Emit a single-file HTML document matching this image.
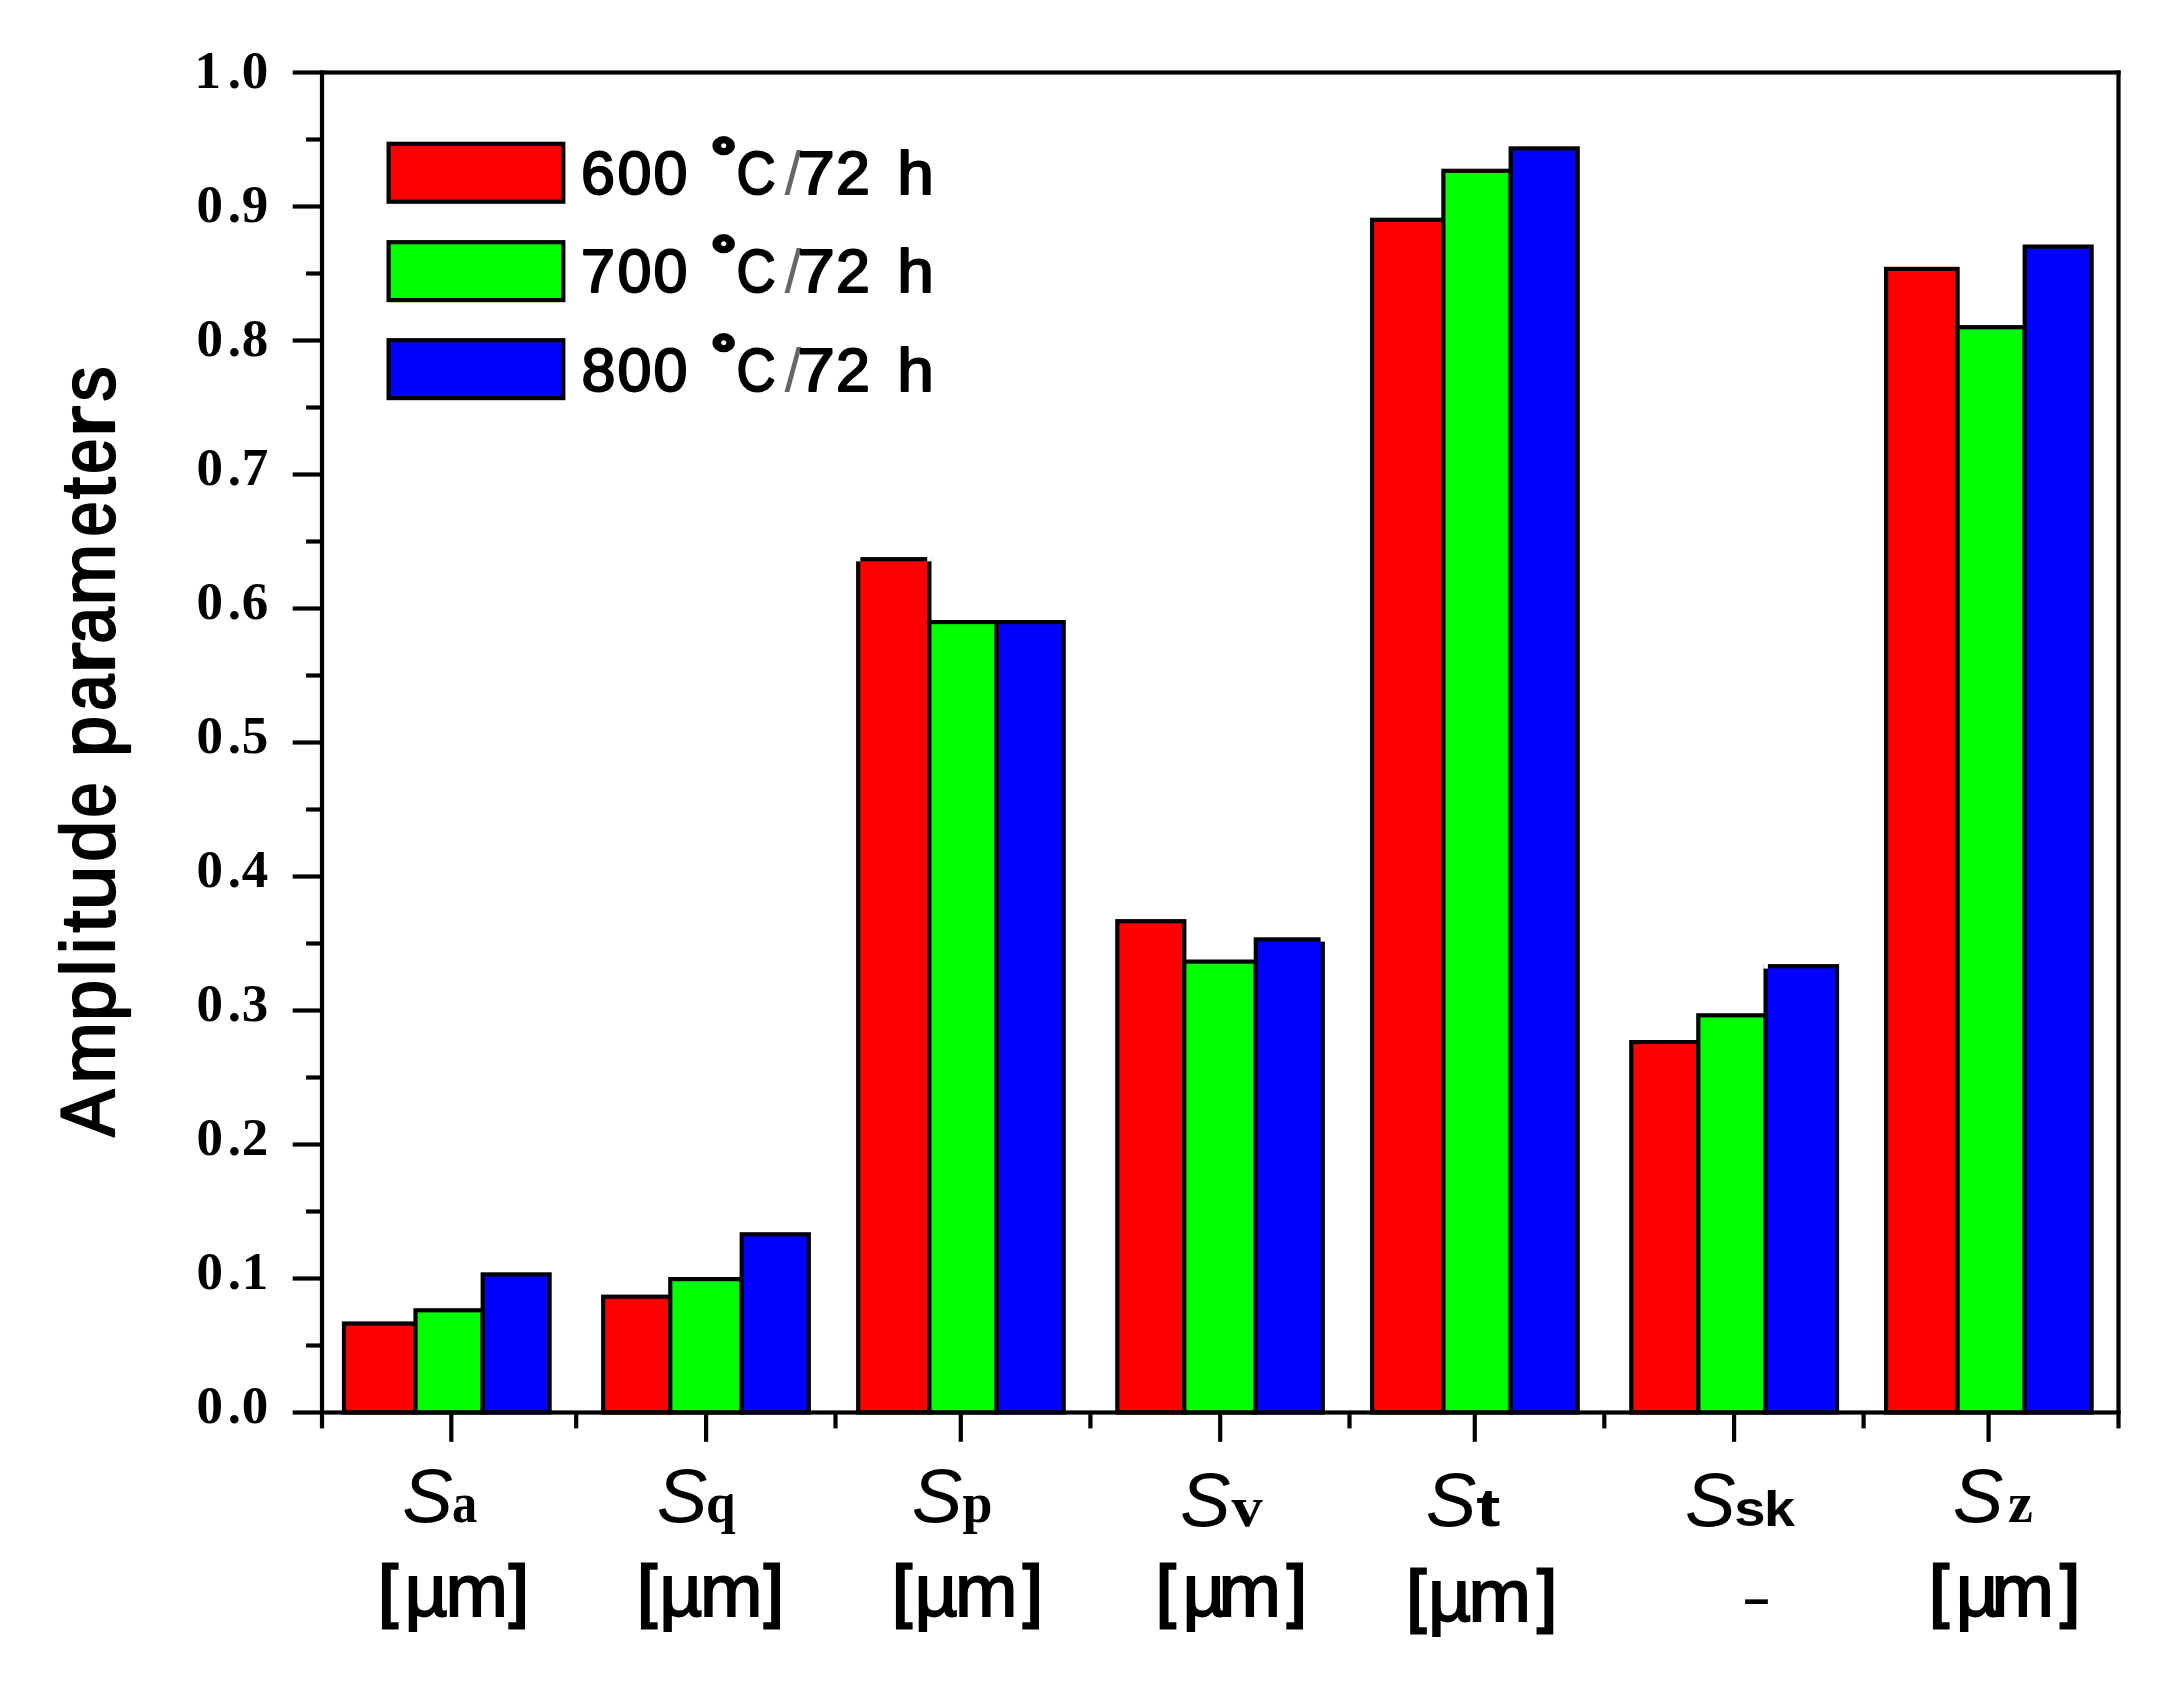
<!DOCTYPE html>
<html lang="en"><head><meta charset="utf-8"><title>Amplitude parameters</title>
<style>html,body{margin:0;padding:0;background:#fff}body{width:2164px;height:1684px;overflow:hidden}svg{display:block}.sans{font-family:"Liberation Sans",Arial,Helvetica,sans-serif}.serif{font-family:"Liberation Serif","Times New Roman",serif;font-weight:bold}</style></head><body>
<svg width="2164" height="1684" viewBox="0 0 2164 1684">
<rect width="2164" height="1684" fill="#fff"/>
<g stroke="#000" stroke-width="4.2" stroke-linejoin="miter">
<rect x="344.0" y="1323.5" width="71.5" height="89.0" fill="#ff0000"/>
<rect x="415.5" y="1310.3" width="67.2" height="102.2" fill="#00ff00"/>
<rect x="482.7" y="1274.4" width="66.9" height="138.1" fill="#0000ff"/>
<rect x="603.2" y="1296.7" width="67.1" height="115.8" fill="#ff0000"/>
<rect x="670.3" y="1279.1" width="71.4" height="133.4" fill="#00ff00"/>
<rect x="741.7" y="1234.3" width="67.1" height="178.2" fill="#0000ff"/>
<rect x="858.2" y="559.2" width="71.2" height="853.3" fill="#ff0000"/>
<rect x="929.4" y="622.1" width="67.3" height="790.4" fill="#00ff00"/>
<rect x="996.7" y="622.1" width="67.0" height="790.4" fill="#0000ff"/>
<rect x="1117.3" y="921.2" width="67.0" height="491.3" fill="#ff0000"/>
<rect x="1184.3" y="961.6" width="71.5" height="450.9" fill="#00ff00"/>
<rect x="1255.8" y="939.4" width="67.0" height="473.1" fill="#0000ff"/>
<rect x="1372.1" y="219.8" width="71.3" height="1192.7" fill="#ff0000"/>
<rect x="1443.4" y="170.8" width="67.3" height="1241.7" fill="#00ff00"/>
<rect x="1510.7" y="148.4" width="67.0" height="1264.1" fill="#0000ff"/>
<rect x="1631.3" y="1042.1" width="67.0" height="370.4" fill="#ff0000"/>
<rect x="1698.3" y="1015.3" width="67.3" height="397.2" fill="#00ff00"/>
<rect x="1765.6" y="966.2" width="71.4" height="446.3" fill="#0000ff"/>
<rect x="1886.1" y="268.9" width="71.5" height="1143.6" fill="#ff0000"/>
<rect x="1957.6" y="327.2" width="67.1" height="1085.3" fill="#00ff00"/>
<rect x="2024.7" y="246.6" width="66.9" height="1165.9" fill="#0000ff"/>
</g>
<g fill="#000">
<rect x="292.7" y="70.4" width="1827.9" height="4.2"/>
<rect x="292.7" y="1410.4" width="1827.9" height="4.2"/>
<rect x="319.9" y="70.4" width="4.2" height="1358.0"/>
<rect x="2116.4" y="70.4" width="4.2" height="1358.0"/>
<rect x="292.7" y="1276.4" width="28" height="4.2"/>
<rect x="292.7" y="1142.4" width="28" height="4.2"/>
<rect x="292.7" y="1008.4" width="28" height="4.2"/>
<rect x="292.7" y="874.4" width="28" height="4.2"/>
<rect x="292.7" y="740.4" width="28" height="4.2"/>
<rect x="292.7" y="606.4" width="28" height="4.2"/>
<rect x="292.7" y="472.4" width="28" height="4.2"/>
<rect x="292.7" y="338.4" width="28" height="4.2"/>
<rect x="292.7" y="204.4" width="28" height="4.2"/>
<rect x="306.1" y="1343.4" width="15" height="4.2"/>
<rect x="306.1" y="1209.4" width="15" height="4.2"/>
<rect x="306.1" y="1075.4" width="15" height="4.2"/>
<rect x="306.1" y="941.4" width="15" height="4.2"/>
<rect x="306.1" y="807.4" width="15" height="4.2"/>
<rect x="306.1" y="673.4" width="15" height="4.2"/>
<rect x="306.1" y="539.4" width="15" height="4.2"/>
<rect x="306.1" y="405.4" width="15" height="4.2"/>
<rect x="306.1" y="271.4" width="15" height="4.2"/>
<rect x="306.1" y="137.4" width="15" height="4.2"/>
<rect x="449.2" y="1412.5" width="4.2" height="29.3"/>
<rect x="574.1" y="1412.5" width="4.2" height="15.9"/>
<rect x="704.0" y="1412.5" width="4.2" height="29.3"/>
<rect x="833.4" y="1412.5" width="4.2" height="15.9"/>
<rect x="958.7" y="1412.5" width="4.2" height="29.3"/>
<rect x="1088.3" y="1412.5" width="4.2" height="15.9"/>
<rect x="1218.1" y="1412.5" width="4.2" height="29.3"/>
<rect x="1347.4" y="1412.5" width="4.2" height="15.9"/>
<rect x="1472.7" y="1412.5" width="4.2" height="29.3"/>
<rect x="1602.2" y="1412.5" width="4.2" height="15.9"/>
<rect x="1732.0" y="1412.5" width="4.2" height="29.3"/>
<rect x="1861.5" y="1412.5" width="4.2" height="15.9"/>
<rect x="1986.5" y="1412.5" width="4.2" height="29.3"/>
</g>
<g stroke="#000" stroke-width="4.2">
<rect x="388.6" y="143.8" width="174.7" height="57.9" fill="#ff0000"/>
<rect x="388.6" y="242.2" width="174.7" height="57.9" fill="#00ff00"/>
<rect x="388.6" y="340.2" width="174.7" height="57.9" fill="#0000ff"/>
</g>
<g fill="#fff">
<rect x="855.8" y="556.8" width="4.6" height="4.6"/>
<rect x="927.2" y="556.8" width="4.6" height="4.6"/>
<rect x="1320.6" y="937.0" width="4.6" height="4.6"/>
<rect x="1763.3" y="964.0" width="4.6" height="4.6"/>
</g>
<g class="serif" font-size="53">
<text x="196.5 227.7 241.7" y="1423.4">0.0</text>
<text x="196.5 227.7 241.7" y="1289.4">0.1</text>
<text x="196.5 227.7 241.7" y="1155.4">0.2</text>
<text x="196.5 227.7 241.7" y="1021.4">0.3</text>
<text x="196.5 227.7 241.7" y="887.4">0.4</text>
<text x="196.5 227.7 241.7" y="753.4">0.5</text>
<text x="196.5 227.7 241.7" y="619.4">0.6</text>
<text x="196.5 227.7 241.7" y="485.4">0.7</text>
<text x="196.5 227.7 241.7" y="355.5">0.8</text>
<text x="196.5 227.7 241.7" y="221.5">0.9</text>
<text x="194.5 227.7 241.7" y="87.5">1.0</text>
</g>
<g class="sans" font-size="61" stroke="#000" stroke-width="2" stroke-linejoin="round">
<text y="193.6"><tspan x="580.9 617.6 653.6">600 </tspan><tspan x="711.6" dy="-19" font-size="51" stroke-width="4.5" textLength="24.4" lengthAdjust="spacingAndGlyphs">°</tspan><tspan x="736.6" dy="19" textLength="39.2" lengthAdjust="spacingAndGlyphs">C</tspan><tspan x="784.5" stroke="none" fill="#666">/</tspan><tspan x="797.6" textLength="37.3" lengthAdjust="spacingAndGlyphs">7</tspan><tspan x="836">2 </tspan><tspan x="897.2" textLength="36.6" lengthAdjust="spacingAndGlyphs">h</tspan></text>
<text y="292.0"><tspan x="580.9 617.6 653.6">700 </tspan><tspan x="711.6" dy="-19" font-size="51" stroke-width="4.5" textLength="24.4" lengthAdjust="spacingAndGlyphs">°</tspan><tspan x="736.6" dy="19" textLength="39.2" lengthAdjust="spacingAndGlyphs">C</tspan><tspan x="784.5" stroke="none" fill="#666">/</tspan><tspan x="797.6" textLength="37.3" lengthAdjust="spacingAndGlyphs">7</tspan><tspan x="836">2 </tspan><tspan x="897.2" textLength="36.6" lengthAdjust="spacingAndGlyphs">h</tspan></text>
<text y="390.5"><tspan x="581.4 617.6 653.6">800 </tspan><tspan x="711.6" dy="-19" font-size="51" stroke-width="4.5" textLength="24.4" lengthAdjust="spacingAndGlyphs">°</tspan><tspan x="736.6" dy="19" textLength="39.2" lengthAdjust="spacingAndGlyphs">C</tspan><tspan x="784.5" stroke="none" fill="#666">/</tspan><tspan x="797.6" textLength="37.3" lengthAdjust="spacingAndGlyphs">7</tspan><tspan x="836">2 </tspan><tspan x="897.2" textLength="36.6" lengthAdjust="spacingAndGlyphs">h</tspan></text>
</g>
<text class="sans" font-size="76" stroke="#000" stroke-width="2.2" stroke-linejoin="round" transform="translate(113.6,1138) rotate(-90)" y="0"><tspan x="1.2" textLength="47.1" lengthAdjust="spacingAndGlyphs">A</tspan><tspan x="54.5" textLength="61.4" lengthAdjust="spacingAndGlyphs">m</tspan><tspan x="117.1" textLength="41.0" lengthAdjust="spacingAndGlyphs">p</tspan><tspan x="161.6">l</tspan><tspan x="183.7">i</tspan><tspan x="205.4" textLength="21.8" lengthAdjust="spacingAndGlyphs">t</tspan><tspan x="228.0" textLength="44.4" lengthAdjust="spacingAndGlyphs">u</tspan><tspan x="276.3" textLength="41.0" lengthAdjust="spacingAndGlyphs">d</tspan><tspan x="320.4" textLength="35.1" lengthAdjust="spacingAndGlyphs">e</tspan><tspan> </tspan><tspan x="380.9" textLength="41.0" lengthAdjust="spacingAndGlyphs">p</tspan><tspan x="427.3" textLength="36.3" lengthAdjust="spacingAndGlyphs">a</tspan><tspan x="464.1" textLength="31.6" lengthAdjust="spacingAndGlyphs">r</tspan><tspan x="494.6" textLength="36.3" lengthAdjust="spacingAndGlyphs">a</tspan><tspan x="532.8" textLength="61.4" lengthAdjust="spacingAndGlyphs">m</tspan><tspan x="601.5" textLength="35.1" lengthAdjust="spacingAndGlyphs">e</tspan><tspan x="639.0" textLength="21.8" lengthAdjust="spacingAndGlyphs">t</tspan><tspan x="664.3" textLength="35.1" lengthAdjust="spacingAndGlyphs">e</tspan><tspan x="700.5" textLength="31.6" lengthAdjust="spacingAndGlyphs">r</tspan><tspan x="736.5" textLength="35.0" lengthAdjust="spacingAndGlyphs">s</tspan></text>
<text y="1521.8"><tspan class="sans" font-style="italic" font-size="76" x="402.2">S</tspan><tspan class="serif" font-size="56" x="451.9" textLength="25.2" lengthAdjust="spacingAndGlyphs">a</tspan></text>
<text y="1521.8"><tspan class="sans" font-style="italic" font-size="76" x="656.8">S</tspan><tspan class="serif" font-size="56" x="705.9" textLength="29.6" lengthAdjust="spacingAndGlyphs">q</tspan></text>
<text y="1521.8"><tspan class="sans" font-style="italic" font-size="76" x="911.8">S</tspan><tspan class="serif" font-size="56" x="962.4" textLength="29.9" lengthAdjust="spacingAndGlyphs">p</tspan></text>
<text y="1526.1"><tspan class="sans" font-style="italic" font-size="76" x="1180.1">S</tspan><tspan class="serif" font-size="57" x="1231.4" textLength="31.1" lengthAdjust="spacingAndGlyphs">v</tspan></text>
<text y="1526.1"><tspan class="sans" font-style="italic" font-size="76" x="1425.7">S</tspan><tspan font-family="Liberation Sans,Arial,sans-serif" font-weight="bold" font-size="54" x="1476.3" textLength="24.1" lengthAdjust="spacingAndGlyphs">t</tspan></text>
<text y="1526.1"><tspan class="sans" font-style="italic" font-size="76" x="1684.9">S</tspan><tspan font-family="Liberation Sans,Arial,sans-serif" font-weight="bold" font-size="50" x="1734.2" textLength="31.3" lengthAdjust="spacingAndGlyphs">s</tspan><tspan font-family="Liberation Sans,Arial,sans-serif" font-weight="bold" font-size="50" x="1763.9" textLength="30.9" lengthAdjust="spacingAndGlyphs">k</tspan></text>
<text y="1521.8"><tspan class="sans" font-style="italic" font-size="76" x="1952.8">S</tspan><tspan class="serif" font-size="56" x="2008">z</tspan></text>
<g class="sans" font-size="75" stroke="#000" stroke-width="1.8" stroke-linejoin="miter">
<text y="1616.3"><tspan x="378.6" y="1614.1" font-size="69" stroke-width="3">[</tspan><tspan x="404.6 445.4" y="1616.3">µm</tspan><tspan x="509.3" y="1614.1" font-size="69" stroke-width="3">]</tspan></text>
<text y="1616.3"><tspan x="637.6" y="1614.1" font-size="69" stroke-width="3">[</tspan><tspan x="659.2 699.9" y="1616.3">µm</tspan><tspan x="764.3" y="1614.1" font-size="69" stroke-width="3">]</tspan></text>
<text y="1616.3"><tspan x="892.6" y="1614.1" font-size="69" stroke-width="3">[</tspan><tspan x="914.4 954.9" y="1616.3">µm</tspan><tspan x="1023.3" y="1614.1" font-size="69" stroke-width="3">]</tspan></text>
<text y="1616.3"><tspan x="1156.2" y="1614.1" font-size="69" stroke-width="3">[</tspan><tspan x="1182.4 1218.5" y="1616.3">µm</tspan><tspan x="1287.2" y="1614.1" font-size="69" stroke-width="3">]</tspan></text>
<text y="1620.8"><tspan x="1406.7" y="1618.6" font-size="69" stroke-width="3">[</tspan><tspan x="1428.1 1468.5" y="1620.8">µm</tspan><tspan x="1537.4" y="1618.6" font-size="69" stroke-width="3">]</tspan></text>
<text y="1616.3"><tspan x="1929.6" y="1614.1" font-size="69" stroke-width="3">[</tspan><tspan x="1955.8 1991.5" y="1616.3">µm</tspan><tspan x="2060.4" y="1614.1" font-size="69" stroke-width="3">]</tspan></text>
<text x="1740.9" y="1616.6" font-size="60" stroke="none" textLength="31" lengthAdjust="spacingAndGlyphs">-</text>
</g>
</svg></body></html>
